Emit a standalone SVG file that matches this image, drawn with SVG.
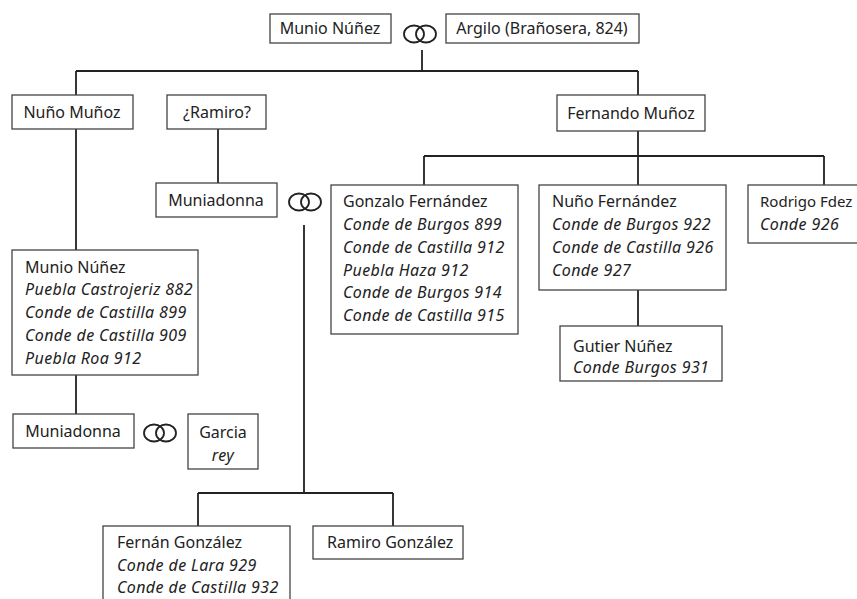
<svg xmlns="http://www.w3.org/2000/svg" width="857" height="599" viewBox="0 0 857 599">
<style>
.box{fill:#fff;stroke:#444;stroke-width:1.3}
.ln{fill:none;stroke:#222;stroke-width:1.8}
.ring{fill:none;stroke:#222;stroke-width:1.8}
text{font-family:"Noto Sans","Open Sans",sans-serif;font-size:16px;fill:#222}
.i{font-style:italic;letter-spacing:0.4px}
.c{text-anchor:middle}
</style>
<defs>
<g id="rings"><ellipse cx="-6" cy="0" rx="10" ry="8.5" class="ring"/><ellipse cx="6" cy="0" rx="10" ry="8.5" class="ring"/></g>
</defs>
<rect width="857" height="599" fill="#fff"/>
<g id="connectors">
<path class="ln" d="M422 50V71M76 71H638M76 71V95M638 71V95"/>
<path class="ln" d="M218 129V183"/>
<path class="ln" d="M76 129V250M76 375V414"/>
<path class="ln" d="M638 131V156M424 156H824M424 156V185M638 156V185M824 156V185"/>
<path class="ln" d="M638 290V326"/>
<path class="ln" d="M304 225V493M198 493H393M198 493V526M393 493V526"/>
</g>
<g id="munio-top"><rect class="box" x="270" y="14" width="121" height="29"/><text class="c" x="330" y="34">Munio Núñez</text></g>
<g id="ring-top"><use href="#rings" x="420" y="34"/></g>
<g id="argilo"><rect class="box" x="446" y="14" width="193" height="29"/><text class="c" x="542" y="34">Argilo (Brañosera, 824)</text></g>
<g id="nuno-munoz"><rect class="box" x="12" y="95" width="121" height="34"/><text class="c" x="72" y="118">Nuño Muñoz</text></g>
<g id="ramiro"><rect class="box" x="167" y="95" width="99" height="34"/><text class="c" x="217" y="118">¿Ramiro?</text></g>
<g id="fernando"><rect class="box" x="557" y="95" width="148" height="36"/><text class="c" x="631" y="119">Fernando Muñoz</text></g>
<g id="muniadonna-1"><rect class="box" x="156" y="183" width="121" height="34"/><text class="c" x="216" y="206">Muniadonna</text></g>
<g id="ring-mid"><use href="#rings" x="305" y="202"/></g>
<g id="gonzalo"><rect class="box" x="331" y="185" width="187" height="149"/>
<text x="343" y="207">Gonzalo Fernández</text>
<text class="i" x="343" y="230">Conde de Burgos 899</text>
<text class="i" x="343" y="253">Conde de Castilla 912</text>
<text class="i" x="343" y="276">Puebla Haza 912</text>
<text class="i" x="343" y="298">Conde de Burgos 914</text>
<text class="i" x="343" y="321">Conde de Castilla 915</text></g>
<g id="nuno-fernandez"><rect class="box" x="539" y="185" width="187" height="105"/>
<text x="552" y="207">Nuño Fernández</text>
<text class="i" x="552" y="230">Conde de Burgos 922</text>
<text class="i" x="552" y="253">Conde de Castilla 926</text>
<text class="i" x="552" y="276">Conde 927</text></g>
<g id="rodrigo"><rect class="box" x="748" y="185" width="115" height="58"/>
<text x="760" y="207" style="font-size:15px">Rodrigo Fdez</text>
<text class="i" x="760" y="230">Conde 926</text></g>
<g id="gutier"><rect class="box" x="560" y="326" width="162" height="55"/>
<text x="573" y="352">Gutier Núñez</text>
<text class="i" x="573" y="373">Conde Burgos 931</text></g>
<g id="munio-left"><rect class="box" x="12" y="250" width="186" height="125"/>
<text x="25" y="273">Munio Núñez</text>
<text class="i" x="25" y="295">Puebla Castrojeriz 882</text>
<text class="i" x="25" y="318">Conde de Castilla 899</text>
<text class="i" x="25" y="341">Conde de Castilla 909</text>
<text class="i" x="25" y="364">Puebla Roa 912</text></g>
<g id="muniadonna-2"><rect class="box" x="13" y="414" width="121" height="34"/><text class="c" x="73" y="437">Muniadonna</text></g>
<g id="ring-low"><use href="#rings" x="160" y="433"/></g>
<g id="garcia"><rect class="box" x="188" y="414" width="70" height="55"/>
<text class="c" x="223" y="438">Garcia</text>
<text class="c i" x="223" y="461">rey</text></g>
<g id="fernan"><rect class="box" x="103" y="526" width="187" height="80"/>
<text x="117" y="548">Fernán González</text>
<text class="i" x="117" y="571">Conde de Lara 929</text>
<text class="i" x="117" y="593">Conde de Castilla 932</text></g>
<g id="ramiro-gonzalez"><rect class="box" x="313" y="526" width="150" height="33"/><text x="327" y="548">Ramiro González</text></g>
</svg>
